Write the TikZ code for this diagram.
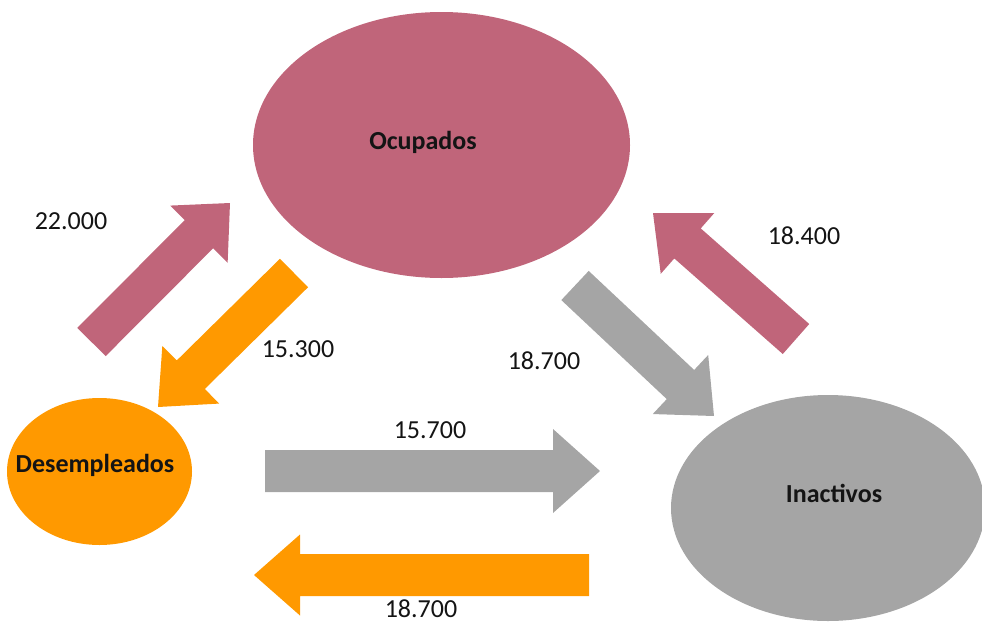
\documentclass[tikz,border=0pt]{standalone}
\usepackage{fontspec}
\setmainfont{Carlito}
\usetikzlibrary{shapes.geometric,calc}
\definecolor{pinkc}{RGB}{192,101,122}
\definecolor{orangec}{RGB}{255,153,0}
\definecolor{greyc}{RGB}{165,165,165}
\definecolor{txtc}{RGB}{20,20,20}
\tikzset{
  blob/.style={ellipse, inner sep=0pt, outer sep=0pt},
  bigname/.style={font=\fontsize{26}{30}\selectfont\bfseries, text=txtc, inner sep=0pt},
  numlabel/.style={font=\fontsize{26}{30}\selectfont, text=txtc, inner sep=0pt},
}
% #1 colour, #2 tail centre, #3 tip, #4 half shaft width, #5 half head width, #6 head length
\newcommand\blockarrow[6]{%
  \coordinate (hb) at ($(#3)!#6!(#2)$);
  \fill[#1] ($(#2)!#4!90:(#3)$) -- ($(hb)!#4!-90:(#2)$) -- ($(hb)!#5!-90:(#2)$)
    -- (#3) -- ($(hb)!#5!90:(#2)$) -- ($(hb)!#4!90:(#2)$) -- ($(#2)!#4!-90:(#3)$) -- cycle;
}
\begin{document}
\begin{tikzpicture}[x=1pt,y=-1pt]
\useasboundingbox (0,0) rectangle (982,624);
% ellipses
\node[blob, fill=pinkc, minimum width=377pt, minimum height=266pt] (ocu) at (441.5,145) {};
\node[blob, fill=orangec, minimum width=185pt, minimum height=147pt] (des) at (99.5,471.5) {};
\node[blob, fill=greyc, minimum width=314pt, minimum height=226pt] (ina) at (828,508) {};
\node[bigname] (ocuT) at (423,142) {Ocupados};
\node[bigname] (desT) at (95,465) {Desempleados};
\node[bigname] (inaT) at (834,493) {Inactivos};
% arrow end points
\coordinate (a1s) at (91.5,342);  \coordinate (a1t) at (230,203);
\coordinate (a2s) at (294,273);   \coordinate (a2t) at (158,407);
\coordinate (a3s) at (575,285.5); \coordinate (a3t) at (714,416);
\coordinate (a4s) at (796,339);   \coordinate (a4t) at (653,213);
\coordinate (a5s) at (265,471);   \coordinate (a5t) at (600,471);
\coordinate (a6s) at (589,575);   \coordinate (a6t) at (254,575);
\blockarrow{pinkc}{a1s}{a1t}{20pt}{40.5pt}{44pt}
\blockarrow{orangec}{a2s}{a2t}{20pt}{40.5pt}{46pt}
\blockarrow{greyc}{a3s}{a3t}{20pt}{40.5pt}{46pt}
\blockarrow{pinkc}{a4s}{a4t}{20pt}{40.5pt}{46pt}
\blockarrow{greyc}{a5s}{a5t}{21pt}{42pt}{47pt}
\blockarrow{orangec}{a6s}{a6t}{21pt}{40.5pt}{46pt}
% numbers
\node[numlabel] (n1) at (71,221) {22.000};
\node[numlabel] (n2) at (298,349) {15.300};
\node[numlabel] (n3) at (544,361) {18.700};
\node[numlabel] (n4) at (804,236) {18.400};
\node[numlabel] (n5) at (430,430) {15.700};
\node[numlabel] (n6) at (421,609) {18.700};
\end{tikzpicture}
\end{document}
